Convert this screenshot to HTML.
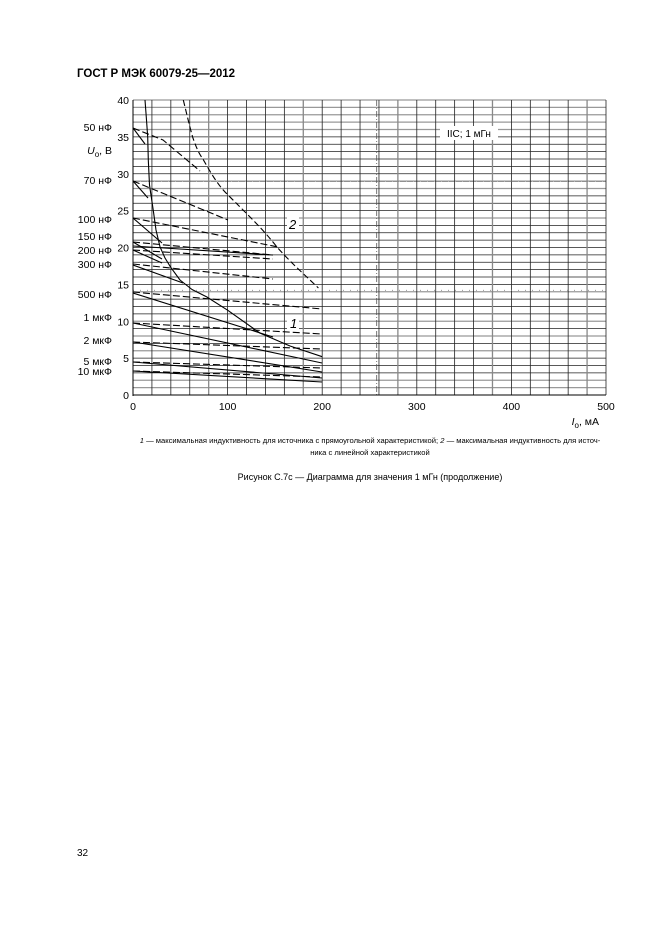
<!DOCTYPE html>
<html><head><meta charset="utf-8"><style>
html,body{margin:0;padding:0;background:#fff;}
body{width:661px;height:936px;position:relative;overflow:hidden;font-family:"Liberation Sans",sans-serif;}
</style></head><body>
<svg width="661" height="936" viewBox="0 0 661 936" xmlns="http://www.w3.org/2000/svg" style="position:absolute;left:0;top:0">
<defs>
<clipPath id="c"><rect x="133" y="100" width="473" height="295"/></clipPath>
</defs>
<text x="77" y="77" font-family="Liberation Sans" font-size="11.5" font-weight="bold">ГОСТ Р МЭК 60079-25—2012</text>
<g id="grid"></g>
<g stroke="#555" stroke-width="0.8" fill="none" stroke-dasharray="6 2 1 2"><line x1="376.7" y1="100" x2="376.7" y2="395"/></g>
<g stroke="#888" stroke-width="0.8" stroke-dasharray="1 6"><line x1="133" y1="181" x2="606" y2="181"/><line x1="133" y1="290.3" x2="606" y2="290.3"/></g>
<rect x="440" y="126" width="58" height="14" fill="#fff"/>
<text x="447" y="137" font-size="10">IIC; 1 мГн</text>
<g fill="none" stroke="#000" stroke-width="1.1" clip-path="url(#c)">
<polyline stroke-linejoin="round" points="145,100 146.5,120 147.7,136.9 148.3,160 149.5,185 153.3,210.6 156,230 160,246.8 165,258 170.8,267.4 180,280 192,289.5 206.7,296.9 227.6,310.2 259.8,333 290,346 322.2,356.7"/>
<path stroke-dasharray="6 3" d="M183.3,100 C187,115 190,128 192.6,136.9 C197,150 200,155 203.3,159.7 C212,175 218,185 226.7,193.7 C245,212 262,228 276.8,246.8 C292,264 306,276 318.4,288"/>
<g stroke-dasharray="7 3">
<polyline points="133,128 163,140 200,171"/>
<polyline points="133,181 228,220"/>
<polyline points="133,218 278,247"/>
<polyline points="133,242 273,255"/>
<polyline points="133,250 273,259"/>
<polyline points="133,264 273,279"/>
<polyline points="133,292 322,309"/>
<polyline points="133,323 322,334"/>
<polyline points="133,342 322,349"/>
<polyline points="133,362 322,368"/>
<polyline points="133,371 322,377"/>
</g>
<line x1="133" y1="128" x2="145" y2="144"/>
<line x1="133" y1="181" x2="148" y2="198"/>
<line x1="133" y1="218" x2="162" y2="243"/>
<line x1="133" y1="242" x2="162" y2="259"/>
<line x1="133" y1="250" x2="162" y2="263"/>
<line x1="133" y1="246" x2="273" y2="255"/>
<line x1="133" y1="265" x2="183" y2="283"/>
<line x1="133" y1="293" x2="273" y2="337"/>
<line x1="133" y1="323" x2="322" y2="363"/>
<line x1="133" y1="342" x2="322" y2="372"/>
<line x1="133" y1="362" x2="322" y2="378"/>
<line x1="133" y1="371" x2="322" y2="382"/>
</g>
<rect x="287" y="316" width="12" height="14" fill="#fff"/>
<text x="290" y="328" font-size="13" font-style="italic">1</text>
<rect x="287" y="217" width="12" height="14" fill="#fff"/>
<text x="289" y="229" font-size="13" font-style="italic">2</text>
<g stroke="#000" stroke-width="1"><line x1="133" y1="100" x2="133" y2="396"/><line x1="133" y1="395" x2="606" y2="395"/></g>
<g font-size="10.5" text-anchor="end" id="yl"></g>
<g font-size="10.5" text-anchor="end">
<text x="112" y="131">50 нФ</text>
<text x="112" y="184">70 нФ</text>
<text x="112" y="223">100 нФ</text>
<text x="112" y="240">150 нФ</text>
<text x="112" y="254">200 нФ</text>
<text x="112" y="268">300 нФ</text>
<text x="112" y="298">500 нФ</text>
<text x="112" y="321">1 мкФ</text>
<text x="112" y="344">2 мкФ</text>
<text x="112" y="365">5 мкФ</text>
<text x="112" y="375">10 мкФ</text>
<text x="112" y="154"><tspan font-style="italic">U</tspan><tspan font-size="8" dy="3">o</tspan><tspan dy="-3">, В</tspan></text>
</g>
<g font-size="10.5" text-anchor="middle">
<text x="133" y="410">0</text><text x="227.6" y="410">100</text><text x="322.2" y="410">200</text><text x="416.8" y="410">300</text><text x="511.4" y="410">400</text><text x="606" y="410">500</text>
</g>
<text x="599" y="425" font-size="10.5" text-anchor="end"><tspan font-style="italic">I</tspan><tspan font-size="8" dy="3">o</tspan><tspan dy="-3">, мА</tspan></text>
<text x="370" y="443" font-size="7.6" text-anchor="middle"><tspan font-style="italic">1</tspan> — максимальная индуктивность для источника с прямоугольной характеристикой; <tspan font-style="italic">2</tspan> — максимальная индуктивность для источ-</text>
<text x="370" y="455" font-size="7.6" text-anchor="middle">ника с линейной характеристикой</text>
<text x="370" y="480" font-size="9" text-anchor="middle">Рисунок С.7с — Диаграмма для значения 1 мГн (продолжение)</text>
<text x="77" y="856" font-size="10">32</text>
<script>
(function(){
var ns="http://www.w3.org/2000/svg",g=document.getElementById("grid"),yl=document.getElementById("yl");
var grayV=[36,37,38,39,40,28,24,14,10,8,6,2,1];
for(var v=1;v<=40;v++){var y=395-v*7.375;var l=document.createElementNS(ns,"line");
l.setAttribute("x1",133);l.setAttribute("x2",606);l.setAttribute("y1",y);l.setAttribute("y2",y);
var gr=grayV.indexOf(v)>=0;l.setAttribute("stroke",gr?"#999":"#222");l.setAttribute("stroke-width",gr?1.3:0.8);g.appendChild(l);}
for(var m=20;m<=500;m+=20){var x=133+m*0.946;var l=document.createElementNS(ns,"line");
l.setAttribute("y1",100);l.setAttribute("y2",395);l.setAttribute("x1",x);l.setAttribute("x2",x);
var gr=(m%100==80);l.setAttribute("stroke",gr?"#888":"#222");l.setAttribute("stroke-width",gr?1.3:0.8);g.appendChild(l);}
for(var v=0;v<=40;v+=5){var t=document.createElementNS(ns,"text");t.setAttribute("x",129);t.setAttribute("y",395-v*7.375+4);t.textContent=v;yl.appendChild(t);}
})();
</script>
</svg>
</body></html>
